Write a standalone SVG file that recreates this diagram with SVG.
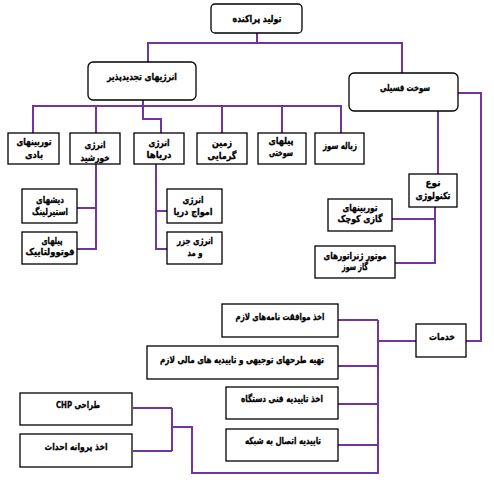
<svg xmlns="http://www.w3.org/2000/svg" width="494" height="487" viewBox="0 0 494 487">
<style>
.b{fill:#fff;stroke:#000;stroke-width:1.3}
.t{font-family:"DejaVu Sans",sans-serif;font-weight:bold;font-size:9.5px;fill:#000;stroke:#000;stroke-width:0.3;text-anchor:middle}
.c{fill:none;stroke:#7035a0;stroke-width:2}
</style>
<rect width="494" height="487" fill="#fff"/>
<g id="connectors" class="c">
<path d="M257,33 V43 M148,62 V43 H402 V73"/>
<path d="M143,100 V119 H161 V133 M33,133 V106 H341 V133 M96,106 V133 M222,106 V133 M282,106 V133"/>
<path d="M96,164 V249 H77 M96,208 H77"/>
<path d="M156,164 V249 H167 M156,211 H167"/>
<path d="M438,111 V174 M458,93 H481 V341 H466"/>
<path d="M435,207 V263 H395 M435,219 H392"/>
<path d="M416,341 H378 M378,320 V473 H192 V427 H172 M338,320 H378 M338,366 H378 M338,404 H378 M338,445 H378"/>
<path d="M172,408 V451 M133,408 H172 M133,451 H172"/>
</g>
<g id="root"><rect class="b" x="211" y="4" width="91" height="29" rx="4"/><text class="t" direction="rtl" x="257" y="22" textLength="49" lengthAdjust="spacingAndGlyphs">تولید پراکنده</text></g>
<g id="renewable"><rect class="b" x="88" y="62" width="108" height="38" rx="5"/><text class="t" direction="rtl" x="142" y="80" textLength="70" lengthAdjust="spacingAndGlyphs">انرژیهای تجدیدپذیر</text></g>
<g id="fossil"><rect class="b" x="349" y="73" width="109" height="38" rx="5"/><text class="t" direction="rtl" x="405" y="91" textLength="50" lengthAdjust="spacingAndGlyphs">سوخت فسیلی</text></g>
<g id="wind"><rect class="b" x="8" y="133" width="51" height="31"/><text class="t" direction="rtl" x="34" y="145" textLength="35" lengthAdjust="spacingAndGlyphs">توربینهای</text><text class="t" direction="rtl" x="34" y="158" textLength="18" lengthAdjust="spacingAndGlyphs">بادی</text></g>
<g id="solar"><rect class="b" x="70" y="133" width="50" height="31"/><text class="t" direction="rtl" x="95" y="148" textLength="21" lengthAdjust="spacingAndGlyphs">انرژی</text><text class="t" direction="rtl" x="95" y="161" textLength="29" lengthAdjust="spacingAndGlyphs">خورشید</text></g>
<g id="seas"><rect class="b" x="134" y="133" width="50" height="31"/><text class="t" direction="rtl" x="159" y="146" textLength="21" lengthAdjust="spacingAndGlyphs">انرژی</text><text class="t" direction="rtl" x="159" y="158" textLength="25" lengthAdjust="spacingAndGlyphs">دریاها</text></g>
<g id="geo"><rect class="b" x="197" y="133" width="50" height="31"/><text class="t" direction="rtl" x="222" y="146" textLength="20" lengthAdjust="spacingAndGlyphs">زمین</text><text class="t" direction="rtl" x="222" y="159" textLength="29" lengthAdjust="spacingAndGlyphs">گرمایی</text></g>
<g id="fuelcell"><rect class="b" x="258" y="133" width="48" height="31"/><text class="t" direction="rtl" x="281" y="144" textLength="25" lengthAdjust="spacingAndGlyphs">پیلهای</text><text class="t" direction="rtl" x="281" y="156" textLength="24" lengthAdjust="spacingAndGlyphs">سوختی</text></g>
<g id="waste"><rect class="b" x="315" y="133" width="49" height="31"/><text class="t" direction="rtl" x="340" y="149" textLength="34" lengthAdjust="spacingAndGlyphs">زباله سوز</text></g>
<g id="stirling"><rect class="b" x="22" y="189" width="55" height="34"/><text class="t" direction="rtl" x="50" y="203" textLength="28" lengthAdjust="spacingAndGlyphs">دیشهای</text><text class="t" direction="rtl" x="50" y="215" textLength="36" lengthAdjust="spacingAndGlyphs">استیرلینگ</text></g>
<g id="pv"><rect class="b" x="22" y="232" width="55" height="32"/><text class="t" direction="rtl" x="52" y="244" textLength="21" lengthAdjust="spacingAndGlyphs">پیلهای</text><text class="t" direction="rtl" x="50" y="255" textLength="49" lengthAdjust="spacingAndGlyphs">فوتوولتاییک</text></g>
<g id="wave"><rect class="b" x="167" y="189" width="55" height="34"/><text class="t" direction="rtl" x="193" y="203" textLength="21" lengthAdjust="spacingAndGlyphs">انرژی</text><text class="t" direction="rtl" x="193" y="215" textLength="39" lengthAdjust="spacingAndGlyphs">امواج دریا</text></g>
<g id="tide"><rect class="b" x="167" y="232" width="55" height="32"/><text class="t" direction="rtl" x="195" y="244" textLength="36" lengthAdjust="spacingAndGlyphs">انرژی جزر</text><text class="t" direction="rtl" x="195" y="256" textLength="15" lengthAdjust="spacingAndGlyphs">و مد</text></g>
<g id="tech"><rect class="b" x="409" y="174" width="48" height="33"/><text class="t" direction="rtl" x="433" y="186" textLength="15" lengthAdjust="spacingAndGlyphs">نوع</text><text class="t" direction="rtl" x="433" y="199" textLength="35" lengthAdjust="spacingAndGlyphs">تکنولوژی</text></g>
<g id="gasturbine"><rect class="b" x="328" y="199" width="64" height="32"/><text class="t" direction="rtl" x="360" y="211" textLength="35" lengthAdjust="spacingAndGlyphs">توربینهای</text><text class="t" direction="rtl" x="360" y="222" textLength="45" lengthAdjust="spacingAndGlyphs">گازی کوچک</text></g>
<g id="gasengine"><rect class="b" x="315" y="246" width="80" height="32"/><text class="t" direction="rtl" x="355" y="259" textLength="63" lengthAdjust="spacingAndGlyphs">موتور ژنراتورهای</text><text class="t" direction="rtl" x="355" y="270" textLength="26" lengthAdjust="spacingAndGlyphs">گاز سوز</text></g>
<g id="services"><rect class="b" x="416" y="324" width="50" height="33"/><text class="t" direction="rtl" x="442" y="340" textLength="26" lengthAdjust="spacingAndGlyphs">خدمات</text></g>
<g id="s1"><rect class="b" x="222" y="304" width="116" height="33"/><text class="t" direction="rtl" x="280" y="320" textLength="89" lengthAdjust="spacingAndGlyphs">اخذ موافقت نامه‌های لازم</text></g>
<g id="s2"><rect class="b" x="147" y="346" width="191" height="33"/><text class="t" direction="rtl" x="242" y="363" textLength="164" lengthAdjust="spacingAndGlyphs">تهیه طرحهای توجیهی و تاییدیه های مالی لازم</text></g>
<g id="s3"><rect class="b" x="226" y="387" width="112" height="32"/><text class="t" direction="rtl" x="282" y="402" textLength="82" lengthAdjust="spacingAndGlyphs">اخذ تاییدیه فنی دستگاه</text></g>
<g id="s4"><rect class="b" x="226" y="429" width="112" height="32"/><text class="t" direction="rtl" x="283" y="444" textLength="76" lengthAdjust="spacingAndGlyphs">تاییدیه اتصال به شبکه</text></g>
<g id="chp"><rect class="b" x="20" y="393" width="112" height="32"/><text class="t" direction="rtl" x="78" y="408" textLength="44" lengthAdjust="spacingAndGlyphs">طراحی CHP</text></g>
<g id="permit"><rect class="b" x="20" y="434" width="112" height="33"/><text class="t" direction="rtl" x="76" y="450" textLength="63" lengthAdjust="spacingAndGlyphs">اخذ پروانه احداث</text></g>
</svg>
